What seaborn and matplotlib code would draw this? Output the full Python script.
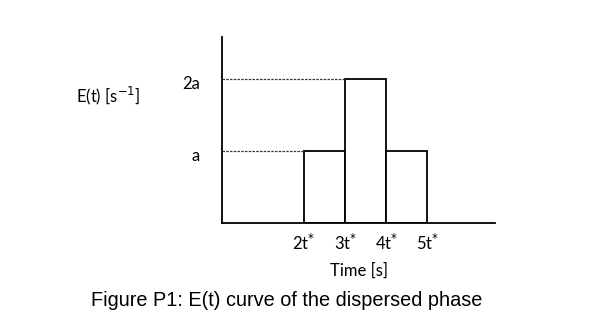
import matplotlib
matplotlib.use("Agg")
import matplotlib.pyplot as plt
import matplotlib.transforms as mtransforms
import seaborn as sns
import pandas as pd

# Data
bin_edges = [2, 3, 4, 5]            # in units of t*
bin_centers = [2.5, 3.5, 4.5]
E_values = [1, 2, 1]                # in units of a
x_tick_pos = [2, 3, 4, 5]
x_tick_labels = ["2t$^{*}$", "3t$^{*}$", "4t$^{*}$", "5t$^{*}$"]
y_tick_pos = [1, 2]
y_tick_labels = ["a", "2a"]

sns.set_style("white")
plt.rcParams["font.family"] = ["Lato", "DejaVu Sans"]
plt.rcParams["mathtext.fontset"] = "dejavusans"
plt.rcParams["text.color"] = "black"
plt.rcParams["xtick.color"] = "black"
plt.rcParams["ytick.color"] = "black"
plt.rcParams["axes.labelcolor"] = "black"

df = pd.DataFrame({"t": bin_centers, "E": E_values})

fig = plt.figure(figsize=(6.02, 3.34), dpi=100)
ax = fig.add_axes([0.3688, 0.3323, 0.4535, 0.557])

sns.histplot(data=df, x="t", weights="E", bins=bin_edges, ax=ax,
             color="white", edgecolor="black", linewidth=1.3, alpha=1)

# dotted guide lines from y axis to bar tops
ax.plot([0, bin_edges[1]], [E_values[1], E_values[1]], color="#333333",
        linestyle=(0, (2, 1)), linewidth=0.9)
ax.plot([0, bin_edges[0]], [E_values[0], E_values[0]], color="#333333",
        linestyle=(0, (2, 1)), linewidth=0.9)

ax.set_xlim(0, 6.65)
ax.set_ylim(0, 2.58)
for s in ["top", "right"]:
    ax.spines[s].set_visible(False)
for s in ["left", "bottom"]:
    ax.spines[s].set_color("black")
    ax.spines[s].set_linewidth(1.3)

ax.set_xticks(x_tick_pos)
ax.set_xticklabels(x_tick_labels, fontsize=12)
ax.set_yticks(y_tick_pos)
ax.set_yticklabels(y_tick_labels, fontsize=12)
ax.tick_params(axis="both", length=0)
ax.tick_params(axis="x", pad=7)
ax.tick_params(axis="y", pad=16)
offset = mtransforms.ScaledTranslation(0, -4 / 100, fig.dpi_scale_trans)
for lbl in ax.get_yticklabels():
    lbl.set_transform(lbl.get_transform() + offset)
ax.set_xlabel("Time [s]", fontsize=12, labelpad=7)
ax.set_ylabel("")

fig.text(108 / 602, 1 - 96 / 334, "E(t) [s$^{-1}$]", fontsize=12,
         ha="center", va="center")
fig.text(287 / 602, 1 - 300 / 334, "Figure P1: E(t) curve of the dispersed phase",
         fontsize=14.3, ha="center", va="center", family=["Liberation Sans"])

fig.savefig("out.png", dpi=100)
